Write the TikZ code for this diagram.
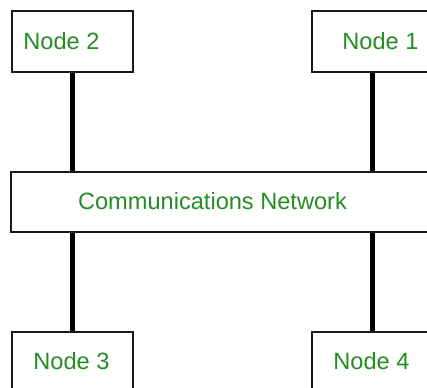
\documentclass[tikz,border=0pt]{standalone}
\usepackage{fontspec}
\setmainfont{Liberation Sans}
\definecolor{labelgreen}{RGB}{38,140,38}
\definecolor{edgegray}{RGB}{25,25,25}
\begin{document}
\begin{tikzpicture}[x=1pt,y=-1pt,
  box/.style={draw=edgegray, line width=1.6pt, fill=white, minimum width=121pt,
              minimum height=61pt, inner sep=0pt, anchor=north west},
  lbl/.style={text=labelgreen, inner sep=0pt, font=\fontsize{23.6}{28}\selectfont},
  link/.style={line width=5.5pt, black}]
\useasboundingbox (0,0) rectangle (427,387);
\clip (0,0) rectangle (427,387);

% boxes
\node[box] (n2) at (11,10) {};
\node[box] (n1) at (311,10) {};
\node[box, minimum width=440pt, minimum height=60pt] (net) at (10,171) {};
\node[box] (n3) at (11,331) {};
\node[box] (n4) at (311,331) {};

% links between the nodes and the network
\draw[link] (n2.south) -- (n2.south |- net.north);
\draw[link] (n1.south) -- (n1.south |- net.north);
\draw[link] (n3.north |- net.south) -- (n3.north);
\draw[link] (n4.north |- net.south) -- (n4.north);

% labels
\node[lbl] (t2) at (61.5,41.5) {Node 2};
\node[lbl] (t1) at (380.5,41.5) {Node 1};
\node[lbl] (tnet) at (212.5,201.5) {Communications Network};
\node[lbl] (t3) at (71.5,361.5) {Node 3};
\node[lbl] (t4) at (371.5,361.5) {Node 4};
\end{tikzpicture}
\end{document}
